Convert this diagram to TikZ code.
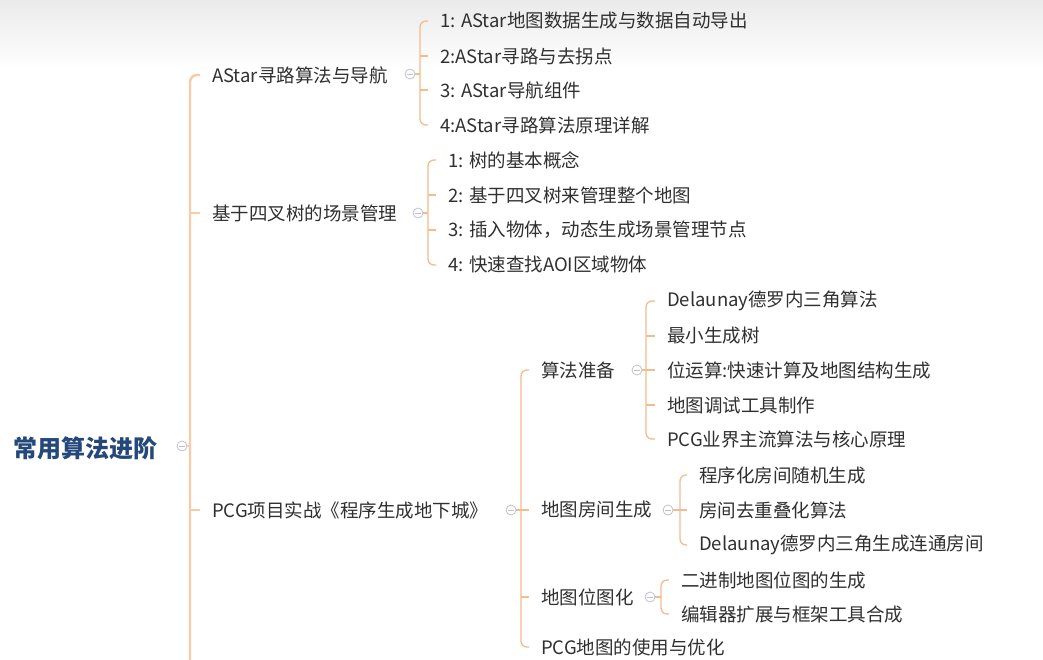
\documentclass[tikz,border=0pt]{standalone}
\usepackage{fontspec}
\setmainfont{Noto Sans CJK SC}
\usetikzlibrary{calc}
\definecolor{txt}{RGB}{48,48,48}
\definecolor{rootc}{RGB}{36,72,122}
\definecolor{spinec}{RGB}{248,202,165}
\definecolor{brc}{RGB}{242,188,142}
\definecolor{circc}{RGB}{192,192,212}
\begin{document}
\begin{tikzpicture}[x=1pt,y=-1pt,
  lbl/.style={anchor=west,inner sep=0pt,text=txt,font=\fontsize{18.5}{20}\selectfont},
  rootlbl/.style={anchor=west,inner sep=0pt,text=rootc,font=\fontsize{24}{26}\selectfont\bfseries},
  coll/.style={circle,draw=circc,line width=0.8pt,minimum size=10pt,inner sep=0pt,fill=white,
    path picture={\draw[circc,line width=0.8pt] ([xshift=-2.6pt]path picture bounding box.center) -- ([xshift=2.6pt]path picture bounding box.center);}},
  mainline/.style={draw=spinec,line width=2.4pt},
  br/.style={draw=brc,line width=1.3pt},
]
\useasboundingbox (0,0) rectangle (1043,660);
\clip (0,0) rectangle (1043,660);
\fill[white] (0,0) rectangle (1043,660);
\shade[top color=black!8, bottom color=white] (0,0) rectangle (1043,70);

% root
\node[rootlbl] (root) at (13,448) {常用算法进阶};
\node[coll] (rc) at (182,446) {};

% level 1
\node[lbl] (a) at (212,75) {AStar寻路算法与导航};
\node[coll] (ac) at (410,74) {};
\node[lbl] (q) at (212,213) {基于四叉树的场景管理};
\node[coll] (qc) at (418,213) {};
\node[lbl] (p) at (212,510) {PCG项目实战《程序生成地下城》};
\node[coll] (pc) at (511,510) {};

% AStar children
\node[lbl] (a1) at (440,21) {1: AStar地图数据生成与数据自动导出};
\node[lbl] (a2) at (440,56) {2:AStar寻路与去拐点};
\node[lbl] (a3) at (440,90) {3: AStar导航组件};
\node[lbl] (a4) at (440,125) {4:AStar寻路算法原理详解};

% quadtree children
\node[lbl] (q1) at (448,160) {1: 树的基本概念};
\node[lbl] (q2) at (448,195) {2: 基于四叉树来管理整个地图};
\node[lbl] (q3) at (448,230) {3: 插入物体，动态生成场景管理节点};
\node[lbl] (q4) at (448,265) {4: 快速查找AOI区域物体};

% PCG children
\node[lbl] (p1) at (541,370) {算法准备};
\node[coll] (p1c) at (637,370) {};
\node[lbl] (p2) at (541,510) {地图房间生成};
\node[coll] (p2c) at (668,510) {};
\node[lbl] (p3) at (541,597) {地图位图化};
\node[coll] (p3c) at (650,597) {};
\node[lbl] (p4) at (541,647) {PCG地图的使用与优化};

% 算法准备 children
\node[lbl] (s1) at (667,301) {Delaunay德罗内三角算法};
\node[lbl] (s2) at (667,336) {最小生成树};
\node[lbl] (s3) at (667,370) {位运算:快速计算及地图结构生成};
\node[lbl] (s4) at (667,405) {地图调试工具制作};
\node[lbl] (s5) at (667,439) {PCG业界主流算法与核心原理};

% 地图房间生成 children
\node[lbl] (r1) at (699,475) {程序化房间随机生成};
\node[lbl] (r2) at (699,510) {房间去重叠化算法};
\node[lbl] (r3) at (699,545) {Delaunay德罗内三角生成连通房间};

% 地图位图化 children
\node[lbl] (b1) at (681,580) {二进制地图位图的生成};
\node[lbl] (b2) at (681,614) {编辑器扩展与框架工具合成};

% main spine
\coordinate (sb) at (190,700);
\draw[mainline,rounded corners=7pt] ([xshift=-12pt]a.west) -| (sb);
\draw[mainline] (q.west -| sb) -- ([xshift=-12pt]q.west);
\draw[mainline] (p.west -| sb) -- ([xshift=-12pt]p.west);
\draw[mainline] (rc.east) -- (rc.east -| sb);

% AStar bracket
\coordinate (abx) at (420,0);
\draw[br,rounded corners=6pt] ([xshift=-12pt]a1.west) -| (abx |- a4.west) -- ([xshift=-12pt]a4.west);
\foreach \n in {a2,a3} \draw[br] (abx |- \n.west) -- ([xshift=-12pt]\n.west);
\draw[br] (ac.east) -- (ac.east -| abx);

% quadtree bracket
\coordinate (qbx) at (428,0);
\draw[br,rounded corners=6pt] ([xshift=-12pt]q1.west) -| (qbx |- q4.west) -- ([xshift=-12pt]q4.west);
\foreach \n in {q2,q3} \draw[br] (qbx |- \n.west) -- ([xshift=-12pt]\n.west);
\draw[br] (qc.east) -- (qc.east -| qbx);

% PCG bracket
\coordinate (pbx) at (521,0);
\draw[br,rounded corners=6pt] ([xshift=-12pt]p1.west) -| (pbx |- p4.west) -- ([xshift=-12pt]p4.west);
\foreach \n in {p2,p3} \draw[br] (pbx |- \n.west) -- ([xshift=-12pt]\n.west);
\draw[br] (pc.east) -- (pc.east -| pbx);

% 算法准备 bracket
\coordinate (sbx) at (646,0);
\draw[br,rounded corners=6pt] ([xshift=-12pt]s1.west) -| (sbx |- s5.west) -- ([xshift=-12pt]s5.west);
\foreach \n in {s2,s3,s4} \draw[br] (sbx |- \n.west) -- ([xshift=-12pt]\n.west);
\draw[br] (p1c.east) -- (p1c.east -| sbx);

% 地图房间生成 bracket
\coordinate (rbx) at (680,0);
\draw[br,rounded corners=6pt] ([xshift=-12pt]r1.west) -| (rbx |- r3.west) -- ([xshift=-12pt]r3.west);
\draw[br] (rbx |- r2.west) -- ([xshift=-12pt]r2.west);
\draw[br] (p2c.east) -- (p2c.east -| rbx);

% 地图位图化 bracket
\coordinate (bbx) at (661,0);
\draw[br,rounded corners=6pt] ([xshift=-12pt]b1.west) -| (bbx |- b2.west) -- ([xshift=-12pt]b2.west);
\draw[br] (p3c.east) -- (p3c.east -| bbx);
\end{tikzpicture}
\end{document}
